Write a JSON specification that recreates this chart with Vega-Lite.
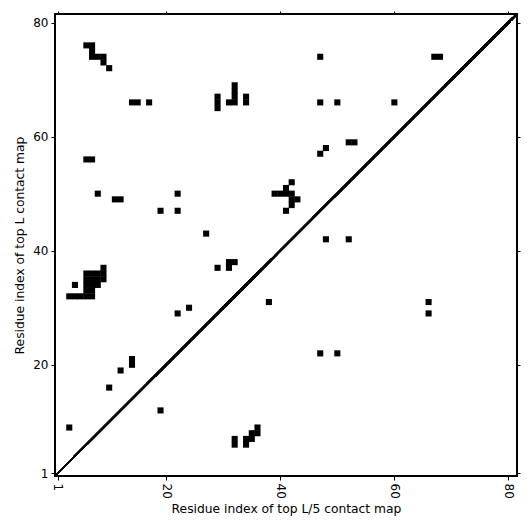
{
  "$schema": "https://vega.github.io/schema/vega-lite/v6.json",
  "autosize": "none",
  "width": 462,
  "height": 462,
  "padding": {"left": 55, "top": 14, "right": 14, "bottom": 55},
  "background": "white",
  "config": {
    "view": {"stroke": "black", "strokeWidth": 2},
    "font": "DejaVu Sans",
    "axis": {
      "grid": false,
      "domain": false,
      "tickColor": "black",
      "tickSize": 4,
      "tickWidth": 1,
      "labelColor": "black",
      "labelFont": "DejaVu Sans",
      "labelFontSize": 12,
      "titleFont": "DejaVu Sans",
      "titleFontSize": 12.3,
      "titleFontWeight": "normal",
      "titleColor": "black"
    }
  },
  "data": {
    "values": [
      {"i": 6, "j": 76}, {"i": 7, "j": 76}, {"i": 7, "j": 75}, {"i": 7, "j": 74}, {"i": 8, "j": 74}, {"i": 9, "j": 74}, {"i": 9, "j": 73}, {"i": 10, "j": 72},
      {"i": 14, "j": 66}, {"i": 15, "j": 66}, {"i": 17, "j": 66},
      {"i": 6, "j": 56}, {"i": 7, "j": 56},
      {"i": 47, "j": 74},
      {"i": 29, "j": 65}, {"i": 29, "j": 66}, {"i": 29, "j": 67},
      {"i": 31, "j": 66}, {"i": 32, "j": 66}, {"i": 32, "j": 67}, {"i": 32, "j": 68}, {"i": 32, "j": 69},
      {"i": 34, "j": 66}, {"i": 34, "j": 67},
      {"i": 47, "j": 66}, {"i": 50, "j": 66}, {"i": 60, "j": 66},
      {"i": 67, "j": 74}, {"i": 68, "j": 74},
      {"i": 52, "j": 59}, {"i": 53, "j": 59}, {"i": 48, "j": 58}, {"i": 47, "j": 57},
      {"i": 8, "j": 50}, {"i": 11, "j": 49}, {"i": 12, "j": 49}, {"i": 22, "j": 50}, {"i": 19, "j": 47}, {"i": 22, "j": 47}, {"i": 27, "j": 43},
      {"i": 9, "j": 37},
      {"i": 6, "j": 36}, {"i": 7, "j": 36}, {"i": 8, "j": 36}, {"i": 9, "j": 36},
      {"i": 6, "j": 35}, {"i": 7, "j": 35}, {"i": 8, "j": 35}, {"i": 9, "j": 35},
      {"i": 4, "j": 34}, {"i": 6, "j": 34}, {"i": 7, "j": 34}, {"i": 8, "j": 34},
      {"i": 6, "j": 33}, {"i": 7, "j": 33},
      {"i": 3, "j": 32}, {"i": 4, "j": 32}, {"i": 5, "j": 32}, {"i": 6, "j": 32}, {"i": 7, "j": 32},
      {"i": 24, "j": 30}, {"i": 22, "j": 29},
      {"i": 42, "j": 52}, {"i": 41, "j": 51},
      {"i": 39, "j": 50}, {"i": 40, "j": 50}, {"i": 41, "j": 50}, {"i": 42, "j": 50},
      {"i": 42, "j": 49}, {"i": 43, "j": 49}, {"i": 42, "j": 48}, {"i": 41, "j": 47},
      {"i": 48, "j": 42}, {"i": 52, "j": 42},
      {"i": 31, "j": 38}, {"i": 32, "j": 38}, {"i": 31, "j": 37}, {"i": 29, "j": 37},
      {"i": 38, "j": 31},
      {"i": 66, "j": 31}, {"i": 66, "j": 29},
      {"i": 14, "j": 20}, {"i": 14, "j": 21}, {"i": 12, "j": 19}, {"i": 10, "j": 16}, {"i": 19, "j": 12}, {"i": 3, "j": 9},
      {"i": 47, "j": 22}, {"i": 50, "j": 22},
      {"i": 32, "j": 6}, {"i": 32, "j": 7}, {"i": 34, "j": 6}, {"i": 34, "j": 7}, {"i": 35, "j": 7}, {"i": 35, "j": 8}, {"i": 36, "j": 8}, {"i": 36, "j": 9}
    ]
  },
  "layer": [
    {
      "mark": {"type": "square", "size": 37, "color": "black", "opacity": 1, "filled": true, "strokeWidth": 0},
      "encoding": {
        "x": {
          "field": "i", "type": "quantitative",
          "scale": {"domain": [0.5, 81.5], "nice": false, "zero": false},
          "axis": {"values": [1, 20, 40, 60, 80], "labelAngle": 90, "labelAlign": "left", "labelBaseline": "middle", "labelPadding": 3, "orient": "bottom", "title": "Residue index of top L/5 contact map", "titlePadding": 4}
        },
        "y": {
          "field": "j", "type": "quantitative",
          "scale": {"domain": [0.5, 81.5], "nice": false, "zero": false},
          "axis": {"values": [1, 20, 40, 60, 80], "orient": "left", "title": "Residue index of top L contact map", "labelPadding": 3, "titlePadding": 6}
        }
      }
    },
    {
      "mark": {"type": "rule", "color": "black", "strokeWidth": 1.6},
      "encoding": {
        "x": {"datum": 0.5, "type": "quantitative", "axis": {"orient": "top", "values": [1, 20, 40, 60, 80], "labels": false, "title": null, "tickSize": 3}},
        "y": {"datum": 0.5, "type": "quantitative", "axis": {"orient": "right", "values": [1, 20, 40, 60, 80], "labels": false, "title": null, "tickSize": 3}},
        "x2": {"datum": 81.5},
        "y2": {"datum": 81.5}
      }
    }
  ],
  "resolve": {"axis": {"x": "independent", "y": "independent"}}
}
